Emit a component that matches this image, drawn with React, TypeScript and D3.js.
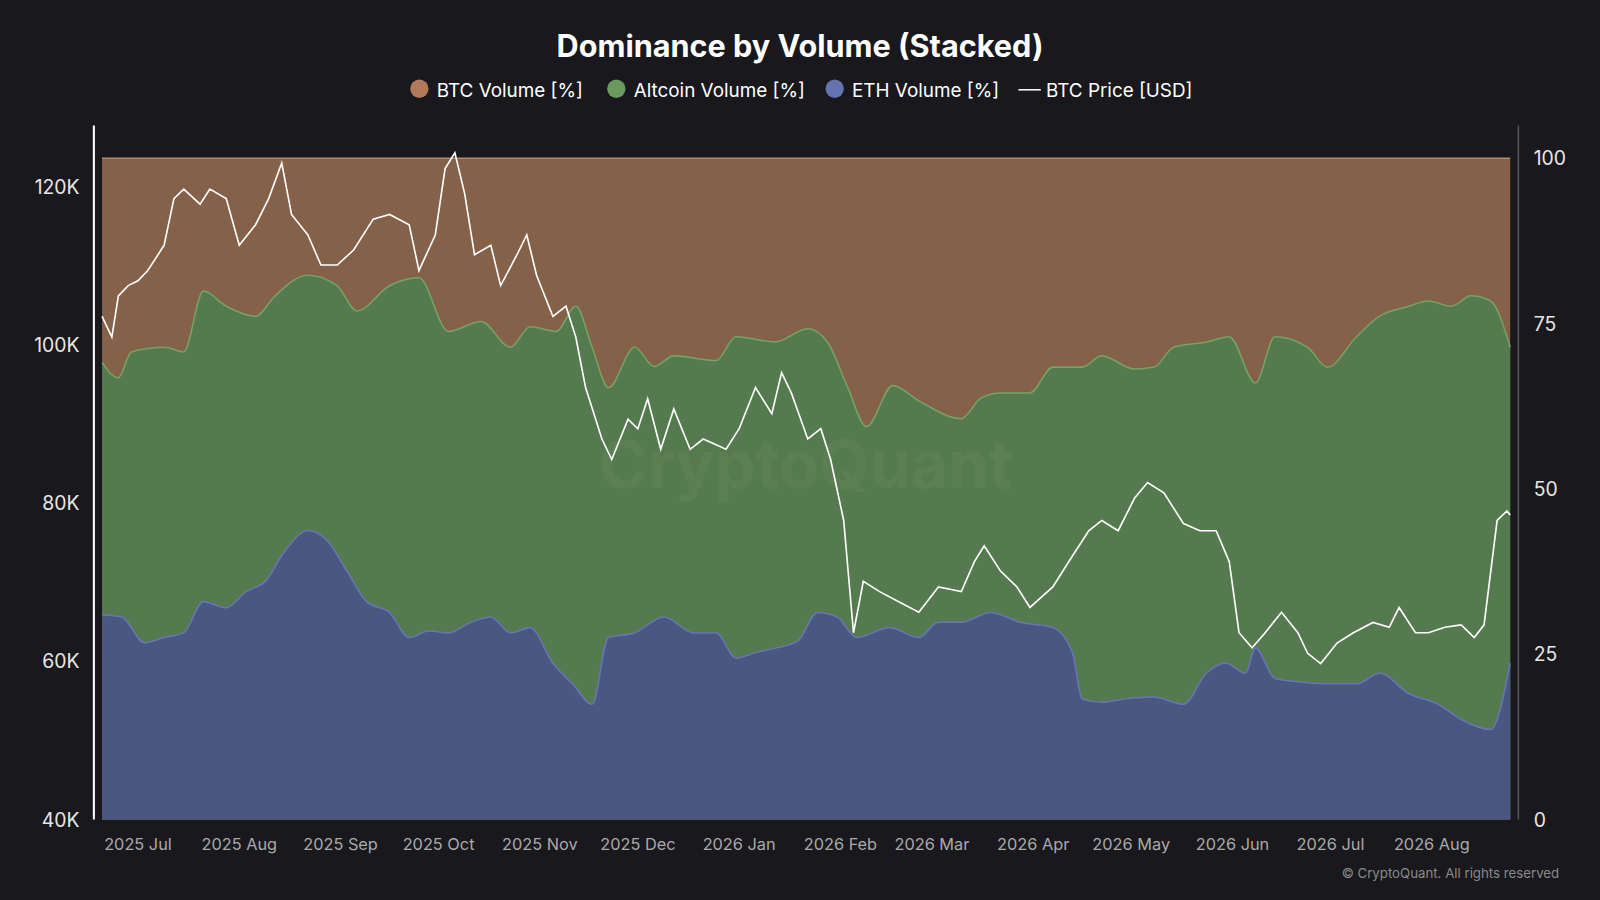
import React from "react";
import * as d3 from "d3";

const START = new Date(2025, 5, 20);
const TOTAL_DAYS = 431;

// ETH volume share [%] as [day since START, value]
const ethShare: [number, number][] = [
  [0,30.9],[6,30.6],[13,26.7],[19,27.5],[25,28.2],[31,32.9],[38,32],[44,34.4],[50,36],[56,40.6],[63,43.7],[69,42.1],[75,37.5],[81,32.9],[88,31.3],[94,27.5],[100,28.5],[106,28.2],[113,29.8],[119,30.6],[125,28.2],[131,29],[138,23.6],[144,20.5],[150,17.4],[155,27.5],[163,28.2],[172,30.6],[181,28.2],[188,28.2],[194,24.4],[200,25.2],[206,25.9],[213,27],[219,31.3],[225,30.6],[231,27.5],[241,29],[250,27.5],[256,29.8],[263,29.8],[272,31.3],[281,29.8],[291,29],[297,25.2],[300,18.2],[306,17.7],[313,18.2],[322,18.5],[331,17.4],[338,22.1],[344,23.6],[350,22.1],[353,25.9],[359,21.3],[366,20.8],[375,20.5],[384,20.5],[391,22.1],[400,19],[409,17.4],[416,15.1],[425,13.6],[431,23.6],
];

// ETH + Altcoin volume share [%] (top of the green band)
const ethPlusAltShare: [number, number][] = [
  [0,69.1],[5,66.8],[9,70.7],[19,71.4],[25,70.7],[31,79.9],[38,77.6],[47,76.1],[53,79.2],[63,82.3],[72,80.7],[78,76.9],[88,80.7],[97,81.9],[106,73.8],[116,75.3],[125,71.4],[131,74.5],[139,73.8],[145,77.6],[150,71.4],[155,65.3],[163,71.4],[169,68.5],[175,70.1],[188,69.4],[194,73],[206,72.2],[216,74.2],[222,72.2],[228,65.6],[234,59.4],[242,65.6],[250,63.3],[263,60.6],[269,63.7],[275,64.5],[284,64.5],[291,68.4],[300,68.4],[306,70.1],[316,68.1],[322,68.4],[328,71.4],[338,72.2],[345,73],[353,66],[359,73],[369,71.4],[375,68.4],[384,73],[391,76.1],[400,77.6],[406,78.4],[413,77.6],[419,79.2],[425,78.4],[431,71.4],
];

// BTC price [K USD]
const btcPrice: [number, number][] = [
  [0,103.6],[3,101],[5,106.2],[8,107.5],[11,108.1],[14,109.4],[19,112.6],[22,118.5],[25,119.7],[30,117.8],[33,119.7],[38,118.5],[42,112.6],[47,115.2],[51,118.5],[55,123],[58,116.5],[63,113.9],[67,110.1],[72,110.1],[77,112],[83,115.9],[88,116.5],[94,115.2],[97,109.4],[102,113.9],[105,122.3],[108,124.3],[111,119.1],[114,111.4],[119,112.6],[122,107.5],[127,111.4],[130,113.9],[133,108.8],[138,103.6],[142,104.9],[145,101],[148,94.6],[153,88.1],[156,85.5],[161,90.6],[164,89.4],[167,93.2],[171,86.8],[175,91.9],[180,86.8],[184,88.1],[191,86.8],[195,89.4],[200,94.6],[205,91.3],[208,96.5],[211,93.9],[216,88.1],[220,89.4],[223,85.5],[227,77.8],[230,63.6],[233,70.1],[238,68.8],[244,67.5],[250,66.2],[256,69.4],[263,68.8],[267,72.6],[270,74.6],[275,71.4],[280,69.4],[284,66.8],[291,69.4],[297,73.3],[302,76.5],[306,77.8],[311,76.5],[316,80.6],[320,82.6],[325,81.3],[331,77.4],[336,76.5],[341,76.5],[345,72.6],[348,63.6],[352,61.7],[356,63.6],[361,66.2],[366,63.6],[369,61],[373,59.7],[378,62.3],[383,63.6],[389,64.9],[394,64.3],[397,66.8],[402,63.6],[406,63.6],[411,64.3],[416,64.6],[420,63],[423,64.6],[427,77.8],[430,79],[431,78.5],
];

const priceTicks = [40, 60, 80, 100, 120];
const pctTicks = [0, 25, 50, 75, 100];
const monthTicks: [number, number, string][] = [
  [2025,6,"2025 Jul"],[2025,7,"2025 Aug"],[2025,8,"2025 Sep"],[2025,9,"2025 Oct"],[2025,10,"2025 Nov"],[2025,11,"2025 Dec"],
  [2026,0,"2026 Jan"],[2026,1,"2026 Feb"],[2026,2,"2026 Mar"],[2026,3,"2026 Apr"],[2026,4,"2026 May"],[2026,5,"2026 Jun"],[2026,6,"2026 Jul"],[2026,7,"2026 Aug"],
];

const legend = [
  { label: "BTC Volume [%]", color: "#b07a5a", type: "dot" },
  { label: "Altcoin Volume [%]", color: "#6c9a5e", type: "dot" },
  { label: "ETH Volume [%]", color: "#6474b0", type: "dot" },
  { label: "BTC Price [USD]", color: "#ffffff", type: "line" },
];

export default function App() {
  const L = 100, R = 1480, T = 155, B = 803;
  const x = d3.scaleTime().domain([START, d3.timeDay.offset(START, TOTAL_DAYS)]).range([L, R]);
  const xd = (d: number) => x(d3.timeDay.offset(START, d));
  const yP = d3.scaleLinear().domain([0, 100]).range([B, T]);
  const yK = d3.scaleLinear().domain([40, 120]).range([B, 183]);

  const area = d3.area<[number, number]>().x(d => xd(d[0])).y0(B).y1(d => yP(d[1])).curve(d3.curveMonotoneX);
  const edge = d3.line<[number, number]>().x(d => xd(d[0])).y(d => yP(d[1])).curve(d3.curveMonotoneX);
  const priceLine = d3.line<[number, number]>().x(d => xd(d[0])).y(d => yK(d[1]));

  const legendX = [401, 594, 808, 998];

  return (
    <svg width={1600} height={900} viewBox="0 0 1568 882"
      style={{ position: "fixed", left: 0, top: 0, background: "#18181d", fontFamily: "Inter, 'Open Sans', sans-serif" }}>
      <rect width={1568} height={882} fill="#18181d" />
      <text x={784} y={56} textAnchor="middle" fill="#fff" fontSize={30} fontWeight={700}>Dominance by Volume (Stacked)</text>
      {legend.map((l, i) => (
        <g key={l.label} transform={`translate(${legendX[i]},88)`}>
          {l.type === "dot" ? <circle cx={10} cy={-1} r={9} fill={l.color} /> : <line x1={0} x2={22} y1={0} y2={0} stroke="#fff" strokeWidth={1.5} />}
          <text x={27} y={7} fill="#fff" fontSize={18.5}>{l.label}</text>
        </g>
      ))}
      <rect x={L} y={T} width={R - L} height={B - T} fill="#86614a" />
      <line x1={L} x2={R} y1={T} y2={T} stroke="#b58a66" strokeWidth={1.5} />
      <path d={area(ethPlusAltShare)!} fill="#567a4f" />
      <path d={edge(ethPlusAltShare)!} fill="none" stroke="#74a462" strokeWidth={1.5} />
      <path d={area(ethShare)!} fill="#4a5780" />
      <path d={edge(ethShare)!} fill="none" stroke="#6676b8" strokeWidth={1.5} />
      <text x={790} y={478} textAnchor="middle" fill="#ffffff" opacity={0.03} fontSize={64} fontWeight={700}>CryptoQuant</text>
      <path d={priceLine(btcPrice)!} fill="none" stroke="#fff" strokeWidth={1.6} />
      <line x1={92} x2={92} y1={123} y2={B} stroke="#fff" strokeWidth={2} />
      <line x1={1488} x2={1488} y1={123} y2={B} stroke="#555" strokeWidth={1.5} />
      {priceTicks.map(t => (
        <text key={t} x={78} y={yK(t) + 7} textAnchor="end" fill="#e6e6e6" fontSize={19}>{t}K</text>
      ))}
      {pctTicks.map(t => (
        <text key={t} x={1503} y={yP(t) + 7} textAnchor="start" fill="#e6e6e6" fontSize={19}>{t}</text>
      ))}
      {monthTicks.map(([y, m, lab]) => {
        const px = x(new Date(y, m, 1));
        return (
          <text key={lab} x={px} y={833} textAnchor="middle" fill="#aaaaaa" fontSize={16}>{lab}</text>
        );
      })}
      <text x={1528} y={860} textAnchor="end" fill="#8a8a8a" fontSize={13}>© CryptoQuant. All rights reserved</text>
    </svg>
  );
}
